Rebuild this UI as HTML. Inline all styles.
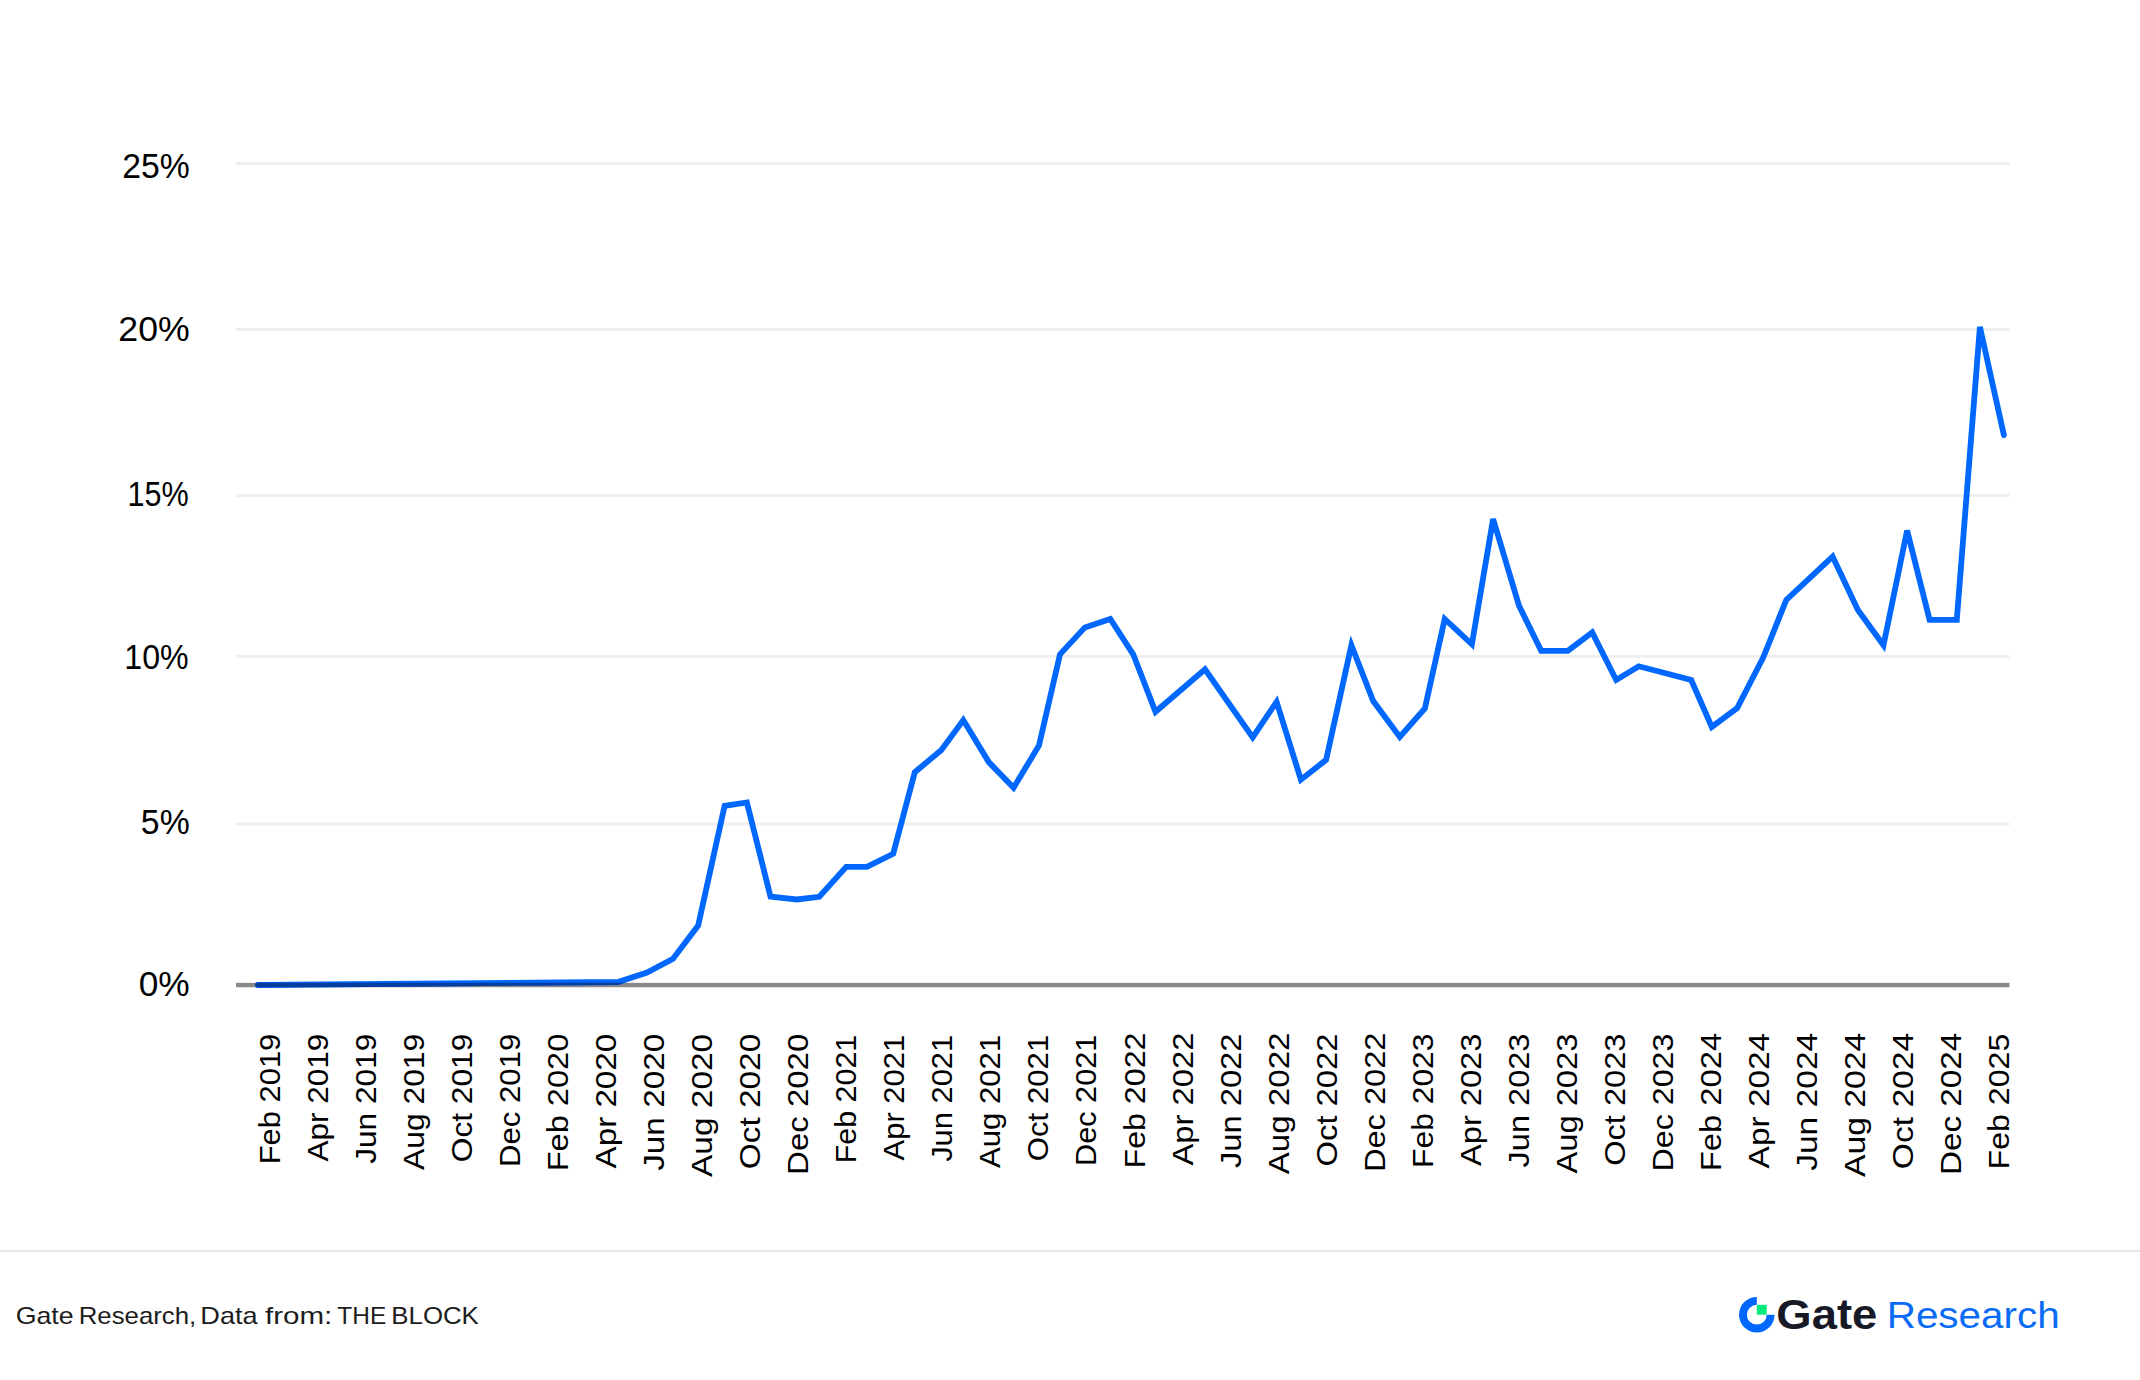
<!DOCTYPE html>
<html lang="en">
<head>
<meta charset="utf-8">
<title>Gate Research chart</title>
<style>
html,body{margin:0;padding:0;background:#fff;}
body{width:2140px;height:1380px;overflow:hidden;}
svg{display:block;}
text{font-family:"Liberation Sans",sans-serif;}
</style>
</head>
<body>
<svg width="2140" height="1380" viewBox="0 0 2140 1380">
<rect x="0" y="0" width="2140" height="1380" fill="#ffffff"/>
<g>
<rect x="236" y="162.0" width="1773.5" height="3" fill="#efefef"/>
<rect x="236" y="328.0" width="1773.5" height="3" fill="#efefef"/>
<rect x="236" y="494.0" width="1773.5" height="3" fill="#efefef"/>
<rect x="236" y="654.9" width="1773.5" height="3" fill="#efefef"/>
<rect x="236" y="822.5" width="1773.5" height="3" fill="#efefef"/>
</g>
<rect x="236" y="982.85" width="1773.5" height="4.4" fill="#8a898b"/>
<clipPath id="axclip"><rect x="236" y="982.85" width="1773.5" height="4.4"/></clipPath>
<polyline points="258.0,985.0 617.9,982.0 647.0,972.5 673.0,958.7 698.2,925.4 724.6,805.9 746.9,802.5 770.5,896.6 796.7,899.5 819.3,896.8 846.2,866.9 866.9,866.9 893.2,853.8 914.8,772.2 941.4,750.0 963.3,720.1 988.8,762.1 1013.6,787.7 1039.0,745.5 1060.0,654.3 1084.9,627.4 1110.3,619.0 1133.2,654.3 1155.5,711.8 1205.0,669.4 1252.7,737.3 1276.6,701.8 1300.9,779.7 1326.1,759.9 1351.4,645.3 1373.2,701.0 1399.8,737.0 1424.9,708.4 1444.7,619.0 1471.9,644.3 1493.1,519.0 1519.0,605.6 1541.2,650.9 1567.8,650.9 1592.2,632.5 1616.2,680.0 1638.8,666.3 1691.2,680.0 1711.8,726.9 1737.2,708.0 1763.3,657.3 1786.3,599.9 1832.6,556.6 1857.9,610.0 1883.5,645.3 1907.1,530.5 1929.6,619.8 1956.8,619.8 1979.9,326.9 2003.9,435.2" fill="none" stroke="#0068ff" stroke-width="5.8" stroke-linecap="round" stroke-linejoin="miter" stroke-miterlimit="4"/>
<polyline points="258.0,985.0 617.9,982.0 647.0,972.5 673.0,958.7 698.2,925.4 724.6,805.9 746.9,802.5 770.5,896.6 796.7,899.5 819.3,896.8 846.2,866.9 866.9,866.9 893.2,853.8 914.8,772.2 941.4,750.0 963.3,720.1 988.8,762.1 1013.6,787.7 1039.0,745.5 1060.0,654.3 1084.9,627.4 1110.3,619.0 1133.2,654.3 1155.5,711.8 1205.0,669.4 1252.7,737.3 1276.6,701.8 1300.9,779.7 1326.1,759.9 1351.4,645.3 1373.2,701.0 1399.8,737.0 1424.9,708.4 1444.7,619.0 1471.9,644.3 1493.1,519.0 1519.0,605.6 1541.2,650.9 1567.8,650.9 1592.2,632.5 1616.2,680.0 1638.8,666.3 1691.2,680.0 1711.8,726.9 1737.2,708.0 1763.3,657.3 1786.3,599.9 1832.6,556.6 1857.9,610.0 1883.5,645.3 1907.1,530.5 1929.6,619.8 1956.8,619.8 1979.9,326.9 2003.9,435.2" fill="none" stroke="#053e9e" stroke-width="5.8" stroke-linecap="round" stroke-linejoin="miter" stroke-miterlimit="4" clip-path="url(#axclip)"/>
<g>
<text x="122.13" y="177.7" font-size="34.8" fill="#000" textLength="67.53" lengthAdjust="spacingAndGlyphs">25%</text>
<text x="118.30" y="341.4" font-size="34.8" fill="#000" textLength="71.37" lengthAdjust="spacingAndGlyphs">20%</text>
<text x="127.49" y="505.6" font-size="34.8" fill="#000" textLength="61.16" lengthAdjust="spacingAndGlyphs">15%</text>
<text x="124.27" y="669.3" font-size="34.8" fill="#000" textLength="64.37" lengthAdjust="spacingAndGlyphs">10%</text>
<text x="140.87" y="833.7" font-size="34.8" fill="#000" textLength="48.82" lengthAdjust="spacingAndGlyphs">5%</text>
<text x="138.68" y="995.6" font-size="34.8" fill="#000" textLength="50.99" lengthAdjust="spacingAndGlyphs">0%</text>
</g>
<g>
<text transform="translate(280.15,1164.29) rotate(-90)" font-size="30" fill="#000" textLength="130.55" lengthAdjust="spacingAndGlyphs">Feb 2019</text>
<text transform="translate(328.17,1161.41) rotate(-90)" font-size="30" fill="#000" textLength="127.63" lengthAdjust="spacingAndGlyphs">Apr 2019</text>
<text transform="translate(376.19,1163.82) rotate(-90)" font-size="30" fill="#000" textLength="130.05" lengthAdjust="spacingAndGlyphs">Jun 2019</text>
<text transform="translate(424.21,1170.01) rotate(-90)" font-size="30" fill="#000" textLength="136.24" lengthAdjust="spacingAndGlyphs">Aug 2019</text>
<text transform="translate(472.23,1162.24) rotate(-90)" font-size="30" fill="#000" textLength="128.49" lengthAdjust="spacingAndGlyphs">Oct 2019</text>
<text transform="translate(520.25,1166.88) rotate(-90)" font-size="30" fill="#000" textLength="133.13" lengthAdjust="spacingAndGlyphs">Dec 2019</text>
<text transform="translate(568.27,1171.28) rotate(-90)" font-size="30" fill="#000" textLength="137.54" lengthAdjust="spacingAndGlyphs">Feb 2020</text>
<text transform="translate(616.29,1168.41) rotate(-90)" font-size="30" fill="#000" textLength="134.63" lengthAdjust="spacingAndGlyphs">Apr 2020</text>
<text transform="translate(664.31,1170.82) rotate(-90)" font-size="30" fill="#000" textLength="137.05" lengthAdjust="spacingAndGlyphs">Jun 2020</text>
<text transform="translate(712.33,1177.01) rotate(-90)" font-size="30" fill="#000" textLength="143.23" lengthAdjust="spacingAndGlyphs">Aug 2020</text>
<text transform="translate(760.35,1169.24) rotate(-90)" font-size="30" fill="#000" textLength="135.48" lengthAdjust="spacingAndGlyphs">Oct 2020</text>
<text transform="translate(808.37,1174.89) rotate(-90)" font-size="30" fill="#000" textLength="141.16" lengthAdjust="spacingAndGlyphs">Dec 2020</text>
<text transform="translate(856.39,1163.30) rotate(-90)" font-size="30" fill="#000" textLength="128.55" lengthAdjust="spacingAndGlyphs">Feb 2021</text>
<text transform="translate(904.41,1160.40) rotate(-90)" font-size="30" fill="#000" textLength="125.63" lengthAdjust="spacingAndGlyphs">Apr 2021</text>
<text transform="translate(952.43,1161.83) rotate(-90)" font-size="30" fill="#000" textLength="127.05" lengthAdjust="spacingAndGlyphs">Jun 2021</text>
<text transform="translate(1000.45,1168.00) rotate(-90)" font-size="30" fill="#000" textLength="133.22" lengthAdjust="spacingAndGlyphs">Aug 2021</text>
<text transform="translate(1048.47,1161.25) rotate(-90)" font-size="30" fill="#000" textLength="126.49" lengthAdjust="spacingAndGlyphs">Oct 2021</text>
<text transform="translate(1096.49,1165.88) rotate(-90)" font-size="30" fill="#000" textLength="131.13" lengthAdjust="spacingAndGlyphs">Dec 2021</text>
<text transform="translate(1144.51,1168.52) rotate(-90)" font-size="30" fill="#000" textLength="135.99" lengthAdjust="spacingAndGlyphs">Feb 2022</text>
<text transform="translate(1192.53,1165.60) rotate(-90)" font-size="30" fill="#000" textLength="133.03" lengthAdjust="spacingAndGlyphs">Apr 2022</text>
<text transform="translate(1240.55,1168.02) rotate(-90)" font-size="30" fill="#000" textLength="134.46" lengthAdjust="spacingAndGlyphs">Jun 2022</text>
<text transform="translate(1288.57,1174.20) rotate(-90)" font-size="30" fill="#000" textLength="141.64" lengthAdjust="spacingAndGlyphs">Aug 2022</text>
<text transform="translate(1336.59,1166.45) rotate(-90)" font-size="30" fill="#000" textLength="132.90" lengthAdjust="spacingAndGlyphs">Oct 2022</text>
<text transform="translate(1384.61,1172.12) rotate(-90)" font-size="30" fill="#000" textLength="139.62" lengthAdjust="spacingAndGlyphs">Dec 2022</text>
<text transform="translate(1432.63,1167.88) rotate(-90)" font-size="30" fill="#000" textLength="134.34" lengthAdjust="spacingAndGlyphs">Feb 2023</text>
<text transform="translate(1480.65,1166.01) rotate(-90)" font-size="30" fill="#000" textLength="132.42" lengthAdjust="spacingAndGlyphs">Apr 2023</text>
<text transform="translate(1528.67,1167.41) rotate(-90)" font-size="30" fill="#000" textLength="133.83" lengthAdjust="spacingAndGlyphs">Jun 2023</text>
<text transform="translate(1576.69,1173.61) rotate(-90)" font-size="30" fill="#000" textLength="140.04" lengthAdjust="spacingAndGlyphs">Aug 2023</text>
<text transform="translate(1624.71,1165.83) rotate(-90)" font-size="30" fill="#000" textLength="132.25" lengthAdjust="spacingAndGlyphs">Oct 2023</text>
<text transform="translate(1672.73,1171.48) rotate(-90)" font-size="30" fill="#000" textLength="137.92" lengthAdjust="spacingAndGlyphs">Dec 2023</text>
<text transform="translate(1720.75,1171.28) rotate(-90)" font-size="30" fill="#000" textLength="138.51" lengthAdjust="spacingAndGlyphs">Feb 2024</text>
<text transform="translate(1768.77,1168.40) rotate(-90)" font-size="30" fill="#000" textLength="135.61" lengthAdjust="spacingAndGlyphs">Apr 2024</text>
<text transform="translate(1816.79,1170.81) rotate(-90)" font-size="30" fill="#000" textLength="138.03" lengthAdjust="spacingAndGlyphs">Jun 2024</text>
<text transform="translate(1864.81,1177.01) rotate(-90)" font-size="30" fill="#000" textLength="144.23" lengthAdjust="spacingAndGlyphs">Aug 2024</text>
<text transform="translate(1912.83,1169.24) rotate(-90)" font-size="30" fill="#000" textLength="136.46" lengthAdjust="spacingAndGlyphs">Oct 2024</text>
<text transform="translate(1960.85,1174.89) rotate(-90)" font-size="30" fill="#000" textLength="142.12" lengthAdjust="spacingAndGlyphs">Dec 2024</text>
<text transform="translate(2008.87,1169.49) rotate(-90)" font-size="30" fill="#000" textLength="135.75" lengthAdjust="spacingAndGlyphs">Feb 2025</text>
</g>
<rect x="0" y="1250" width="2140" height="2" fill="#e8e8e8"/>
<g>
<text x="15.69" y="1323.9" font-size="24" fill="#1c1c1c" textLength="57.97" lengthAdjust="spacingAndGlyphs">Gate</text>
<text x="78.72" y="1323.9" font-size="24" fill="#1c1c1c" textLength="117.56" lengthAdjust="spacingAndGlyphs">Research,</text>
<text x="200.29" y="1323.9" font-size="24" fill="#1c1c1c" textLength="57.33" lengthAdjust="spacingAndGlyphs">Data</text>
<text x="265.00" y="1323.9" font-size="24" fill="#1c1c1c" textLength="67.31" lengthAdjust="spacingAndGlyphs">from:</text>
<text x="337.36" y="1323.9" font-size="24" fill="#1c1c1c" textLength="48.89" lengthAdjust="spacingAndGlyphs">THE</text>
<text x="391.31" y="1323.9" font-size="24" fill="#1c1c1c" textLength="87.54" lengthAdjust="spacingAndGlyphs">BLOCK</text>
</g>
<g>
<path d="M1756.8,1296.9 A17.8,17.8 0 1 0 1774.6,1314.7 L1766.7,1314.7 A9.9,9.9 0 1 1 1756.8,1304.8 Z" fill="#0068ff"/>
<rect x="1756.8" y="1304.8" width="9.9" height="9.9" fill="#06ec7c"/>
<text x="1776.34" y="1328.6" font-size="42" font-weight="700" fill="#171a26" textLength="100.92" lengthAdjust="spacingAndGlyphs">Gate</text>
<text x="1886.69" y="1328.0" font-size="36.3" fill="#0a6cf5" textLength="172.99" lengthAdjust="spacingAndGlyphs">Research</text>
</g>
</svg>
</body>
</html>
